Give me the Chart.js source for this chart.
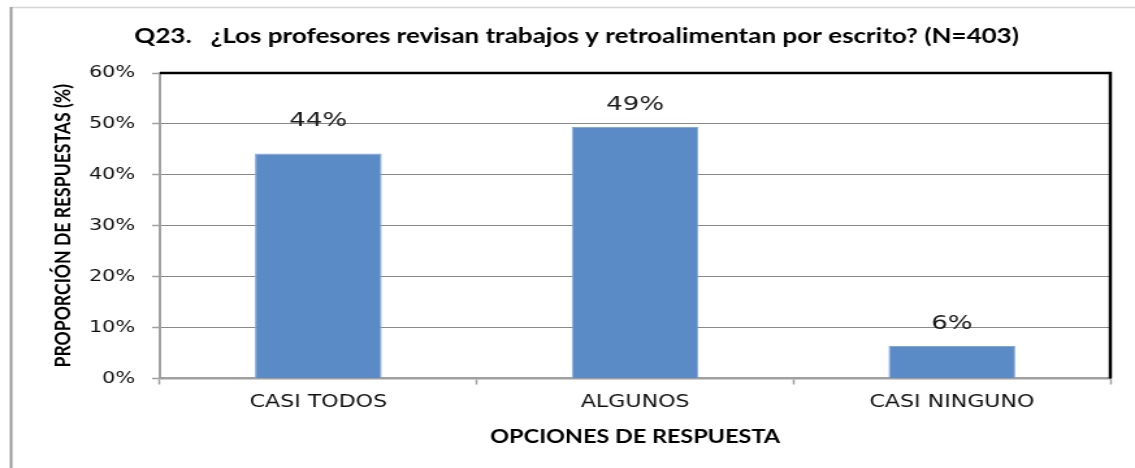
<!DOCTYPE html>
<html>
<head>
<meta charset="utf-8">
<script src="https://cdn.jsdelivr.net/npm/chart.js@4.4.0/dist/chart.umd.min.js"></script>
<style>
  html, body { margin: 0; padding: 0; background: #fff; overflow: hidden; }
  /* the reference picture is stretched sideways, so the chart is drawn narrow and widened */
  #wrap { width: 873px; height: 468px; transform: scaleX(1.30011); transform-origin: 0 0; }
</style>
</head>
<body>
<div id="wrap"><canvas id="chart"></canvas></div>
<script>
var categories = ['CASI TODOS', 'ALGUNOS', 'CASI NINGUNO'];
var percentages = [44.2, 49.4, 6.4];
var yTicks = [0, 10, 20, 30, 40, 50, 60];
var chartTitle = 'Q23.   ¿Los profesores revisan trabajos y retroalimentan por escrito? (N=403)';
var xTitle = 'OPCIONES DE RESPUESTA';
var yTitle = 'PROPORCIÓN DE RESPUESTAS (%)';

// how far above each bar its value label sits
var labelLift = [33, 22, 22];

var framePlugin = {
  id: 'frame',
  beforeDraw: function(chart) {
    var ctx = chart.ctx;
    ctx.save();
    ctx.fillStyle = '#ffffff';
    ctx.fillRect(0, 0, chart.width, chart.height);
    ctx.strokeStyle = '#d6d6d6';
    ctx.lineWidth = 1.5;
    ctx.beginPath();
    ctx.moveTo(8, 7.5);
    ctx.lineTo(chart.width, 7.5);
    ctx.stroke();
    ctx.strokeStyle = '#9a9a9a';
    ctx.lineWidth = 2;
    ctx.beginPath();
    ctx.moveTo(8.5, 7);
    ctx.lineTo(8.5, chart.height);
    ctx.stroke();
    ctx.restore();
  },
  afterDraw: function(chart) {
    // black border on top and right of the plot area
    var a = chart.chartArea;
    var ctx = chart.ctx;
    ctx.save();
    ctx.strokeStyle = '#000000';
    ctx.lineWidth = 2.5;
    ctx.beginPath();
    ctx.moveTo(a.left, a.top);
    ctx.lineTo(a.right, a.top);
    ctx.lineTo(a.right, a.bottom);
    ctx.stroke();
    ctx.restore();
  }
};

var valueLabels = {
  id: 'valueLabels',
  afterDatasetsDraw: function(chart) {
    var ctx = chart.ctx;
    var meta = chart.getDatasetMeta(0);
    ctx.save();
    ctx.font = '20px "DejaVu Sans"';
    ctx.fillStyle = '#1a1a1a';
    ctx.textAlign = 'center';
    ctx.textBaseline = 'middle';
    meta.data.forEach(function(bar, i) {
      ctx.fillText(Math.round(percentages[i]) + '%', bar.x, bar.y - labelLift[i]);
    });
    ctx.restore();
  }
};

new Chart(document.getElementById('chart'), {
  type: 'bar',
  data: {
    labels: categories,
    datasets: [{
      data: percentages,
      backgroundColor: '#5b8bc6',
      borderColor: '#84a6d2',
      borderWidth: 1,
      categoryPercentage: 1,
      barPercentage: 0.4
    }]
  },
  options: {
    responsive: true,
    maintainAspectRatio: false,
    animation: false,
    layout: { padding: { left: 33, right: 19, top: 0, bottom: 0 } },
    plugins: {
      legend: { display: false },
      tooltip: { enabled: false },
      title: {
        display: true,
        text: chartTitle,
        color: '#000000',
        font: { family: 'Lato', weight: 'bold', size: 20 },
        padding: { top: 25, bottom: 24 }
      }
    },
    scales: {
      x: {
        offset: true,
        grid: { offset: true, drawOnChartArea: false, drawTicks: true, tickLength: 6, tickColor: '#a0a0a0', tickWidth: 1.5 },
        border: { color: '#a0a0a0', width: 2.5 },
        ticks: { font: { family: 'DejaVu Sans', size: 17 }, color: '#111111', padding: 8, maxRotation: 0 },
        title: {
          display: true,
          text: xTitle,
          color: '#000000',
          font: { family: 'Lato', weight: 'bold', size: 18 },
          padding: { top: 0, bottom: 20 }
        },
        afterFit: function(scale) { scale.height = 89.5; }
      },
      y: {
        min: 0,
        max: 60,
        afterBuildTicks: function(scale) {
          scale.ticks = yTicks.map(function(v) { return { value: v }; });
        },
        ticks: {
          callback: function(v) { return v + '%'; },
          font: { family: 'DejaVu Sans', size: 16 },
          color: '#111111',
          padding: 13
        },
        grid: { color: '#8a8a8a', lineWidth: 1, tickLength: 6, tickColor: '#a0a0a0', tickWidth: 1.5 },
        border: { color: '#a0a0a0', width: 2 },
        title: {
          display: true,
          text: yTitle,
          color: '#000000',
          font: { family: 'Lato', weight: 'bold', size: 17.6 },
          padding: { top: 5, bottom: 0 }
        },
        afterFit: function(scale) { scale.width = 90; }
      }
    }
  },
  plugins: [framePlugin, valueLabels]
});
</script>
</body>
</html>
